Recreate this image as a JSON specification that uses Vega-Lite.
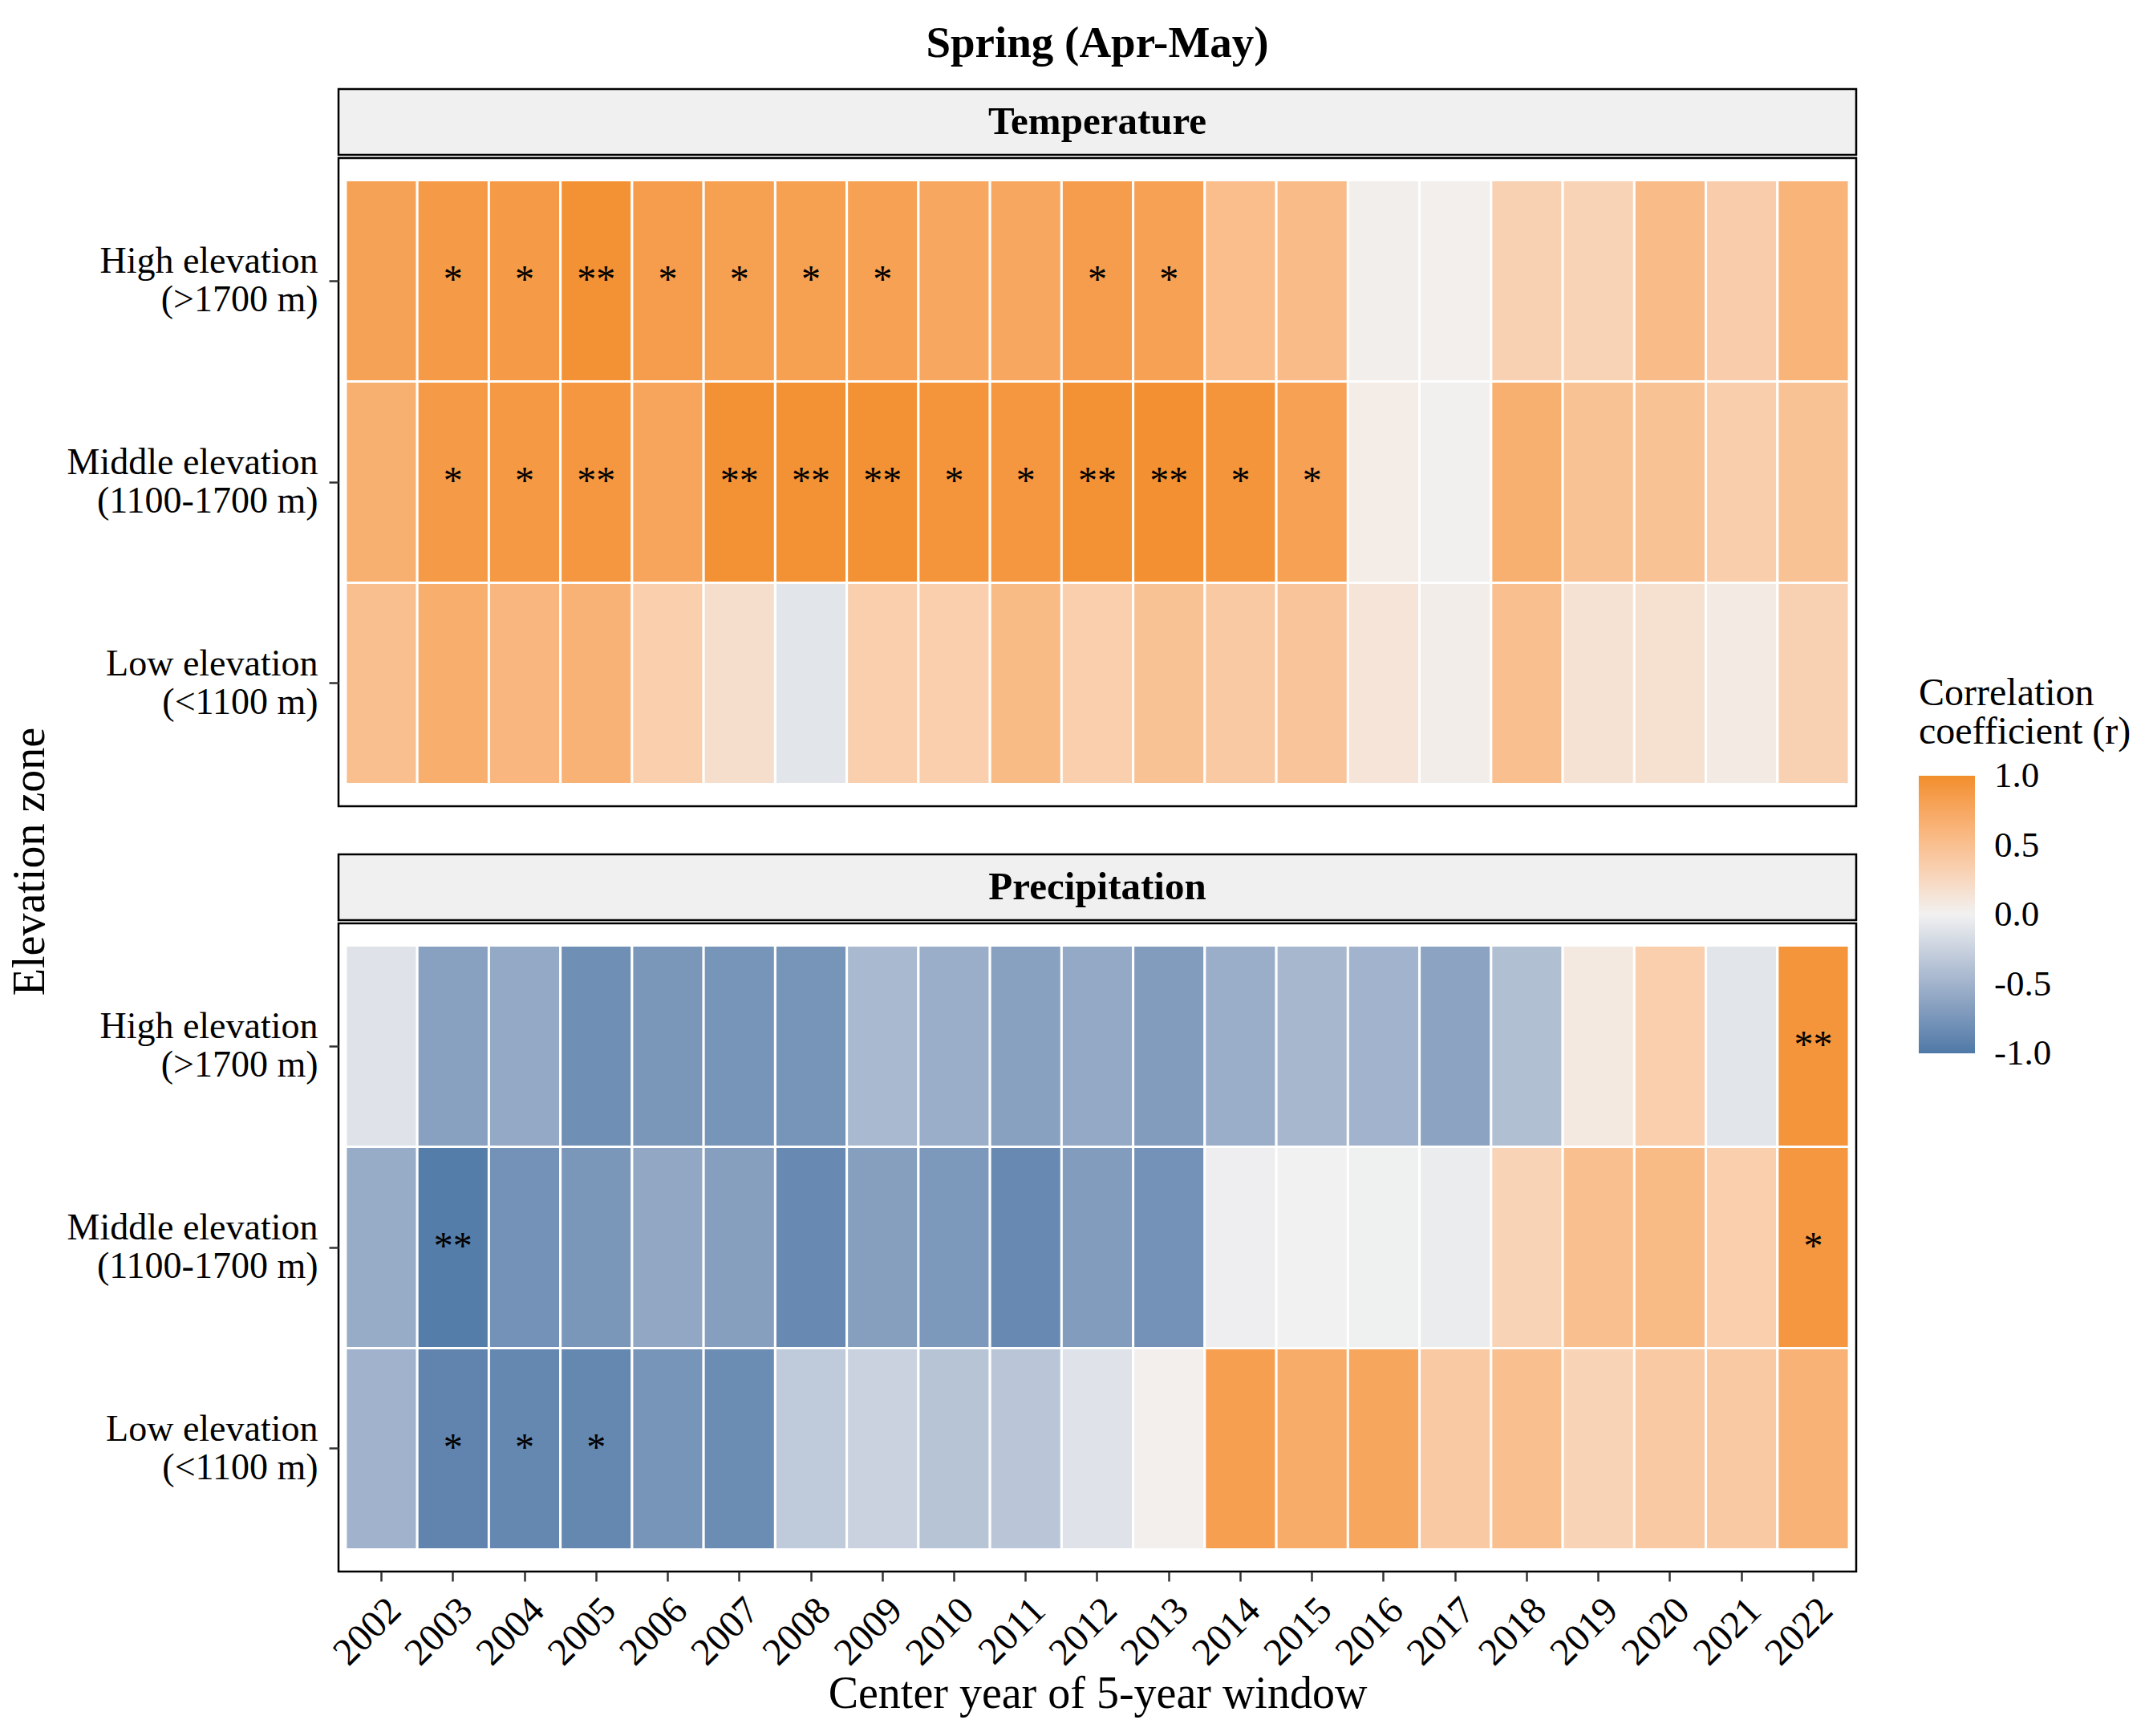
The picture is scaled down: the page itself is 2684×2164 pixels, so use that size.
{
  "$schema": "https://vega.github.io/schema/vega-lite/v6.json",
  "background": "white",
  "padding": {"left": 8, "top": 25, "right": 0, "bottom": 0},
  "datasets": {
    "cells": [
      {"variable": "Temperature", "zone": "High", "year": 2002, "r": 0.8, "sig": ""},
      {"variable": "Temperature", "zone": "High", "year": 2003, "r": 0.88, "sig": "*"},
      {"variable": "Temperature", "zone": "High", "year": 2004, "r": 0.88, "sig": "*"},
      {"variable": "Temperature", "zone": "High", "year": 2005, "r": 0.96, "sig": "**"},
      {"variable": "Temperature", "zone": "High", "year": 2006, "r": 0.85, "sig": "*"},
      {"variable": "Temperature", "zone": "High", "year": 2007, "r": 0.82, "sig": "*"},
      {"variable": "Temperature", "zone": "High", "year": 2008, "r": 0.82, "sig": "*"},
      {"variable": "Temperature", "zone": "High", "year": 2009, "r": 0.81, "sig": "*"},
      {"variable": "Temperature", "zone": "High", "year": 2010, "r": 0.75, "sig": ""},
      {"variable": "Temperature", "zone": "High", "year": 2011, "r": 0.75, "sig": ""},
      {"variable": "Temperature", "zone": "High", "year": 2012, "r": 0.85, "sig": "*"},
      {"variable": "Temperature", "zone": "High", "year": 2013, "r": 0.81, "sig": "*"},
      {"variable": "Temperature", "zone": "High", "year": 2014, "r": 0.52, "sig": ""},
      {"variable": "Temperature", "zone": "High", "year": 2015, "r": 0.54, "sig": ""},
      {"variable": "Temperature", "zone": "High", "year": 2016, "r": 0.03, "sig": ""},
      {"variable": "Temperature", "zone": "High", "year": 2017, "r": 0.02, "sig": ""},
      {"variable": "Temperature", "zone": "High", "year": 2018, "r": 0.32, "sig": ""},
      {"variable": "Temperature", "zone": "High", "year": 2019, "r": 0.3, "sig": ""},
      {"variable": "Temperature", "zone": "High", "year": 2020, "r": 0.54, "sig": ""},
      {"variable": "Temperature", "zone": "High", "year": 2021, "r": 0.36, "sig": ""},
      {"variable": "Temperature", "zone": "High", "year": 2022, "r": 0.62, "sig": ""},
      {"variable": "Temperature", "zone": "Middle", "year": 2002, "r": 0.66, "sig": ""},
      {"variable": "Temperature", "zone": "Middle", "year": 2003, "r": 0.88, "sig": "*"},
      {"variable": "Temperature", "zone": "Middle", "year": 2004, "r": 0.89, "sig": "*"},
      {"variable": "Temperature", "zone": "Middle", "year": 2005, "r": 0.91, "sig": "**"},
      {"variable": "Temperature", "zone": "Middle", "year": 2006, "r": 0.77, "sig": ""},
      {"variable": "Temperature", "zone": "Middle", "year": 2007, "r": 0.96, "sig": "**"},
      {"variable": "Temperature", "zone": "Middle", "year": 2008, "r": 0.96, "sig": "**"},
      {"variable": "Temperature", "zone": "Middle", "year": 2009, "r": 0.96, "sig": "**"},
      {"variable": "Temperature", "zone": "Middle", "year": 2010, "r": 0.93, "sig": "*"},
      {"variable": "Temperature", "zone": "Middle", "year": 2011, "r": 0.91, "sig": "*"},
      {"variable": "Temperature", "zone": "Middle", "year": 2012, "r": 0.96, "sig": "**"},
      {"variable": "Temperature", "zone": "Middle", "year": 2013, "r": 0.97, "sig": "**"},
      {"variable": "Temperature", "zone": "Middle", "year": 2014, "r": 0.93, "sig": "*"},
      {"variable": "Temperature", "zone": "Middle", "year": 2015, "r": 0.81, "sig": "*"},
      {"variable": "Temperature", "zone": "Middle", "year": 2016, "r": 0.05, "sig": ""},
      {"variable": "Temperature", "zone": "Middle", "year": 2017, "r": 0.01, "sig": ""},
      {"variable": "Temperature", "zone": "Middle", "year": 2018, "r": 0.66, "sig": ""},
      {"variable": "Temperature", "zone": "Middle", "year": 2019, "r": 0.48, "sig": ""},
      {"variable": "Temperature", "zone": "Middle", "year": 2020, "r": 0.48, "sig": ""},
      {"variable": "Temperature", "zone": "Middle", "year": 2021, "r": 0.35, "sig": ""},
      {"variable": "Temperature", "zone": "Middle", "year": 2022, "r": 0.48, "sig": ""},
      {"variable": "Temperature", "zone": "Low", "year": 2002, "r": 0.51, "sig": ""},
      {"variable": "Temperature", "zone": "Low", "year": 2003, "r": 0.68, "sig": ""},
      {"variable": "Temperature", "zone": "Low", "year": 2004, "r": 0.59, "sig": ""},
      {"variable": "Temperature", "zone": "Low", "year": 2005, "r": 0.64, "sig": ""},
      {"variable": "Temperature", "zone": "Low", "year": 2006, "r": 0.34, "sig": ""},
      {"variable": "Temperature", "zone": "Low", "year": 2007, "r": 0.19, "sig": ""},
      {"variable": "Temperature", "zone": "Low", "year": 2008, "r": -0.09, "sig": ""},
      {"variable": "Temperature", "zone": "Low", "year": 2009, "r": 0.34, "sig": ""},
      {"variable": "Temperature", "zone": "Low", "year": 2010, "r": 0.34, "sig": ""},
      {"variable": "Temperature", "zone": "Low", "year": 2011, "r": 0.55, "sig": ""},
      {"variable": "Temperature", "zone": "Low", "year": 2012, "r": 0.34, "sig": ""},
      {"variable": "Temperature", "zone": "Low", "year": 2013, "r": 0.48, "sig": ""},
      {"variable": "Temperature", "zone": "Low", "year": 2014, "r": 0.4, "sig": ""},
      {"variable": "Temperature", "zone": "Low", "year": 2015, "r": 0.45, "sig": ""},
      {"variable": "Temperature", "zone": "Low", "year": 2016, "r": 0.13, "sig": ""},
      {"variable": "Temperature", "zone": "Low", "year": 2017, "r": 0.04, "sig": ""},
      {"variable": "Temperature", "zone": "Low", "year": 2018, "r": 0.51, "sig": ""},
      {"variable": "Temperature", "zone": "Low", "year": 2019, "r": 0.15, "sig": ""},
      {"variable": "Temperature", "zone": "Low", "year": 2020, "r": 0.16, "sig": ""},
      {"variable": "Temperature", "zone": "Low", "year": 2021, "r": 0.07, "sig": ""},
      {"variable": "Temperature", "zone": "Low", "year": 2022, "r": 0.32, "sig": ""},
      {"variable": "Precipitation", "zone": "High", "year": 2002, "r": -0.11, "sig": ""},
      {"variable": "Precipitation", "zone": "High", "year": 2003, "r": -0.65, "sig": ""},
      {"variable": "Precipitation", "zone": "High", "year": 2004, "r": -0.58, "sig": ""},
      {"variable": "Precipitation", "zone": "High", "year": 2005, "r": -0.81, "sig": ""},
      {"variable": "Precipitation", "zone": "High", "year": 2006, "r": -0.74, "sig": ""},
      {"variable": "Precipitation", "zone": "High", "year": 2007, "r": -0.76, "sig": ""},
      {"variable": "Precipitation", "zone": "High", "year": 2008, "r": -0.76, "sig": ""},
      {"variable": "Precipitation", "zone": "High", "year": 2009, "r": -0.45, "sig": ""},
      {"variable": "Precipitation", "zone": "High", "year": 2010, "r": -0.54, "sig": ""},
      {"variable": "Precipitation", "zone": "High", "year": 2011, "r": -0.65, "sig": ""},
      {"variable": "Precipitation", "zone": "High", "year": 2012, "r": -0.58, "sig": ""},
      {"variable": "Precipitation", "zone": "High", "year": 2013, "r": -0.69, "sig": ""},
      {"variable": "Precipitation", "zone": "High", "year": 2014, "r": -0.54, "sig": ""},
      {"variable": "Precipitation", "zone": "High", "year": 2015, "r": -0.47, "sig": ""},
      {"variable": "Precipitation", "zone": "High", "year": 2016, "r": -0.49, "sig": ""},
      {"variable": "Precipitation", "zone": "High", "year": 2017, "r": -0.63, "sig": ""},
      {"variable": "Precipitation", "zone": "High", "year": 2018, "r": -0.4, "sig": ""},
      {"variable": "Precipitation", "zone": "High", "year": 2019, "r": 0.08, "sig": ""},
      {"variable": "Precipitation", "zone": "High", "year": 2020, "r": 0.34, "sig": ""},
      {"variable": "Precipitation", "zone": "High", "year": 2021, "r": -0.09, "sig": ""},
      {"variable": "Precipitation", "zone": "High", "year": 2022, "r": 0.93, "sig": "**"},
      {"variable": "Precipitation", "zone": "Middle", "year": 2002, "r": -0.56, "sig": ""},
      {"variable": "Precipitation", "zone": "Middle", "year": 2003, "r": -0.96, "sig": "**"},
      {"variable": "Precipitation", "zone": "Middle", "year": 2004, "r": -0.78, "sig": ""},
      {"variable": "Precipitation", "zone": "Middle", "year": 2005, "r": -0.74, "sig": ""},
      {"variable": "Precipitation", "zone": "Middle", "year": 2006, "r": -0.6, "sig": ""},
      {"variable": "Precipitation", "zone": "Middle", "year": 2007, "r": -0.67, "sig": ""},
      {"variable": "Precipitation", "zone": "Middle", "year": 2008, "r": -0.85, "sig": ""},
      {"variable": "Precipitation", "zone": "Middle", "year": 2009, "r": -0.67, "sig": ""},
      {"variable": "Precipitation", "zone": "Middle", "year": 2010, "r": -0.73, "sig": ""},
      {"variable": "Precipitation", "zone": "Middle", "year": 2011, "r": -0.85, "sig": ""},
      {"variable": "Precipitation", "zone": "Middle", "year": 2012, "r": -0.69, "sig": ""},
      {"variable": "Precipitation", "zone": "Middle", "year": 2013, "r": -0.78, "sig": ""},
      {"variable": "Precipitation", "zone": "Middle", "year": 2014, "r": -0.02, "sig": ""},
      {"variable": "Precipitation", "zone": "Middle", "year": 2015, "r": 0.0, "sig": ""},
      {"variable": "Precipitation", "zone": "Middle", "year": 2016, "r": -0.01, "sig": ""},
      {"variable": "Precipitation", "zone": "Middle", "year": 2017, "r": -0.04, "sig": ""},
      {"variable": "Precipitation", "zone": "Middle", "year": 2018, "r": 0.3, "sig": ""},
      {"variable": "Precipitation", "zone": "Middle", "year": 2019, "r": 0.51, "sig": ""},
      {"variable": "Precipitation", "zone": "Middle", "year": 2020, "r": 0.55, "sig": ""},
      {"variable": "Precipitation", "zone": "Middle", "year": 2021, "r": 0.34, "sig": ""},
      {"variable": "Precipitation", "zone": "Middle", "year": 2022, "r": 0.91, "sig": "*"},
      {"variable": "Precipitation", "zone": "Low", "year": 2002, "r": -0.5, "sig": ""},
      {"variable": "Precipitation", "zone": "Low", "year": 2003, "r": -0.9, "sig": "*"},
      {"variable": "Precipitation", "zone": "Low", "year": 2004, "r": -0.87, "sig": "*"},
      {"variable": "Precipitation", "zone": "Low", "year": 2005, "r": -0.87, "sig": "*"},
      {"variable": "Precipitation", "zone": "Low", "year": 2006, "r": -0.76, "sig": ""},
      {"variable": "Precipitation", "zone": "Low", "year": 2007, "r": -0.83, "sig": ""},
      {"variable": "Precipitation", "zone": "Low", "year": 2008, "r": -0.31, "sig": ""},
      {"variable": "Precipitation", "zone": "Low", "year": 2009, "r": -0.25, "sig": ""},
      {"variable": "Precipitation", "zone": "Low", "year": 2010, "r": -0.36, "sig": ""},
      {"variable": "Precipitation", "zone": "Low", "year": 2011, "r": -0.34, "sig": ""},
      {"variable": "Precipitation", "zone": "Low", "year": 2012, "r": -0.11, "sig": ""},
      {"variable": "Precipitation", "zone": "Low", "year": 2013, "r": 0.02, "sig": ""},
      {"variable": "Precipitation", "zone": "Low", "year": 2014, "r": 0.83, "sig": ""},
      {"variable": "Precipitation", "zone": "Low", "year": 2015, "r": 0.7, "sig": ""},
      {"variable": "Precipitation", "zone": "Low", "year": 2016, "r": 0.76, "sig": ""},
      {"variable": "Precipitation", "zone": "Low", "year": 2017, "r": 0.4, "sig": ""},
      {"variable": "Precipitation", "zone": "Low", "year": 2018, "r": 0.51, "sig": ""},
      {"variable": "Precipitation", "zone": "Low", "year": 2019, "r": 0.3, "sig": ""},
      {"variable": "Precipitation", "zone": "Low", "year": 2020, "r": 0.4, "sig": ""},
      {"variable": "Precipitation", "zone": "Low", "year": 2021, "r": 0.4, "sig": ""},
      {"variable": "Precipitation", "zone": "Low", "year": 2022, "r": 0.64, "sig": ""}
    ],
    "panels": [
      {"variable": "Temperature"},
      {"variable": "Precipitation"}
    ],
    "ytitle": [
      {"label": "Elevation zone"}
    ]
  },
  "config": {
    "font": "Liberation Serif",
    "axis": {
      "labelFont": "Liberation Serif",
      "titleFont": "Liberation Serif",
      "labelColor": "black",
      "titleColor": "black",
      "labelFontSize": 46,
      "titleFontSize": 56,
      "titleFontWeight": "normal",
      "labelLimit": 0,
      "titleLimit": 0,
      "tickColor": "#333333",
      "tickSize": 12,
      "tickWidth": 2.5,
      "domain": false,
      "grid": false
    },
    "legend": {
      "labelFont": "Liberation Serif",
      "titleFont": "Liberation Serif",
      "labelLimit": 0,
      "titleLimit": 0
    }
  },
  "hconcat": [
    {
      "width": 60,
      "height": 1926,
      "view": {"stroke": null},
      "data": {"name": "ytitle"},
      "mark": {"type": "text", "angle": 270, "fontSize": 56, "font": "Liberation Serif", "color": "black", "align": "center", "baseline": "middle"},
      "encoding": {
        "x": {"field": "label", "type": "nominal", "axis": null},
        "y": {"field": "label", "type": "nominal", "axis": null},
        "text": {"field": "label"}
      }
    },
    {
      "align": "each",
      "spacing": 56,
      "vconcat": [
        {
          "align": "each",
          "spacing": 0,
          "vconcat": [
            {
              "title": {"text": "Spring (Apr-May)", "anchor": "middle", "frame": "group", "fontSize": 55, "fontWeight": "bold", "font": "Liberation Serif", "color": "black", "offset": 28},
              "width": 1892,
              "height": 82,
              "view": {"fill": "#F0F0F0", "stroke": "black", "strokeWidth": 2.5},
              "data": {"name": "panels"},
              "transform": [{"filter": "datum.variable === 'Temperature'"}],
              "mark": {"type": "text", "fontSize": 49, "fontWeight": "bold", "font": "Liberation Serif", "color": "black", "baseline": "middle"},
              "encoding": {
                "x": {"field": "variable", "type": "nominal", "axis": null},
                "y": {"field": "variable", "type": "nominal", "axis": null},
                "text": {"field": "variable"}
              }
            },
            {
              "width": 1892,
              "height": 808,
              "view": {"fill": "white", "stroke": "black", "strokeWidth": 2.5},
              "data": {"name": "cells"},
              "transform": [{"filter": "datum.variable === 'Temperature'"}],
              "encoding": {
                "x": {"field": "year", "type": "ordinal", "scale": {"paddingInner": 0, "paddingOuter": 0.1}, "axis": null},
                "y": {
                  "field": "zone", "type": "nominal", "sort": ["High", "Middle", "Low"],
                  "scale": {"paddingInner": 0, "paddingOuter": 0.11},
                  "axis": {
                    "title": null,
                    "labelPadding": 14,
                    "labelLineHeight": 48,
                    "labelBaseline": "middle",
                    "labelOffset": -24,
                    "labelExpr": "datum.value == 'High' ? ['High elevation', '(>1700 m)'] : datum.value == 'Middle' ? ['Middle elevation', '(1100-1700 m)'] : ['Low elevation', '(<1100 m)']"
                  }
                }
              },
              "layer": [
                {
                  "mark": {"type": "rect", "stroke": "white", "strokeWidth": 3},
                  "encoding": {
                    "color": {
                      "field": "r", "type": "quantitative",
                      "scale": {"domain": [-1, 0, 1], "range": ["#4E79A7", "#F1F1F1", "#F28E2B"], "interpolate": "lab"},
                      "legend": {
                        "orient": "none",
                        "direction": "vertical",
                        "legendX": 2384,
                        "legendY": 730,
                        "title": ["Correlation", "coefficient (r)"],
                        "titleFontSize": 48,
                        "titleFontWeight": "normal",
                        "titleColor": "black",
                        "titleLineHeight": 48,
                        "titlePadding": 30,
                        "gradientLength": 346,
                        "gradientThickness": 70,
                        "gradientStrokeWidth": 0,
                        "values": [-1, -0.5, 0, 0.5, 1],
                        "format": ".1f",
                        "labelFontSize": 45,
                        "labelColor": "black",
                        "labelOffset": 24,
                        "labelOverlap": false,
                        "labelExpr": "replace(datum.label, '−', '-')",
                        "encode": {"labels": {"update": {"baseline": {"value": "middle"}}}}
                      }
                    }
                  }
                },
                {
                  "mark": {"type": "text", "fontSize": 48, "font": "Liberation Serif", "color": "black", "baseline": "middle"},
                  "encoding": {"text": {"field": "sig"}}
                }
              ]
            }
          ]
        },
        {
          "align": "each",
          "spacing": 0,
          "vconcat": [
            {
              "width": 1892,
              "height": 82,
              "view": {"fill": "#F0F0F0", "stroke": "black", "strokeWidth": 2.5},
              "data": {"name": "panels"},
              "transform": [{"filter": "datum.variable === 'Precipitation'"}],
              "mark": {"type": "text", "fontSize": 49, "fontWeight": "bold", "font": "Liberation Serif", "color": "black", "baseline": "middle"},
              "encoding": {
                "x": {"field": "variable", "type": "nominal", "axis": null},
                "y": {"field": "variable", "type": "nominal", "axis": null},
                "text": {"field": "variable"}
              }
            },
            {
              "width": 1892,
              "height": 808,
              "view": {"fill": "white", "stroke": "black", "strokeWidth": 2.5},
              "data": {"name": "cells"},
              "transform": [{"filter": "datum.variable === 'Precipitation'"}],
              "encoding": {
                "x": {
                  "field": "year", "type": "ordinal", "scale": {"paddingInner": 0, "paddingOuter": 0.1},
                  "axis": {"title": "Center year of 5-year window", "labelAngle": -45, "labelAlign": "right", "labelBaseline": "top", "labelFontSize": 48, "labelPadding": 12, "titlePadding": 0}
                },
                "y": {
                  "field": "zone", "type": "nominal", "sort": ["High", "Middle", "Low"],
                  "scale": {"paddingInner": 0, "paddingOuter": 0.11},
                  "axis": {
                    "title": null,
                    "labelPadding": 14,
                    "labelLineHeight": 48,
                    "labelBaseline": "middle",
                    "labelOffset": -24,
                    "labelExpr": "datum.value == 'High' ? ['High elevation', '(>1700 m)'] : datum.value == 'Middle' ? ['Middle elevation', '(1100-1700 m)'] : ['Low elevation', '(<1100 m)']"
                  }
                }
              },
              "layer": [
                {
                  "mark": {"type": "rect", "stroke": "white", "strokeWidth": 3},
                  "encoding": {
                    "color": {"field": "r", "type": "quantitative"}
                  }
                },
                {
                  "mark": {"type": "text", "fontSize": 48, "font": "Liberation Serif", "color": "black", "baseline": "middle"},
                  "encoding": {"text": {"field": "sig"}}
                }
              ]
            }
          ]
        }
      ]
    }
  ],
  "spacing": 13
}
